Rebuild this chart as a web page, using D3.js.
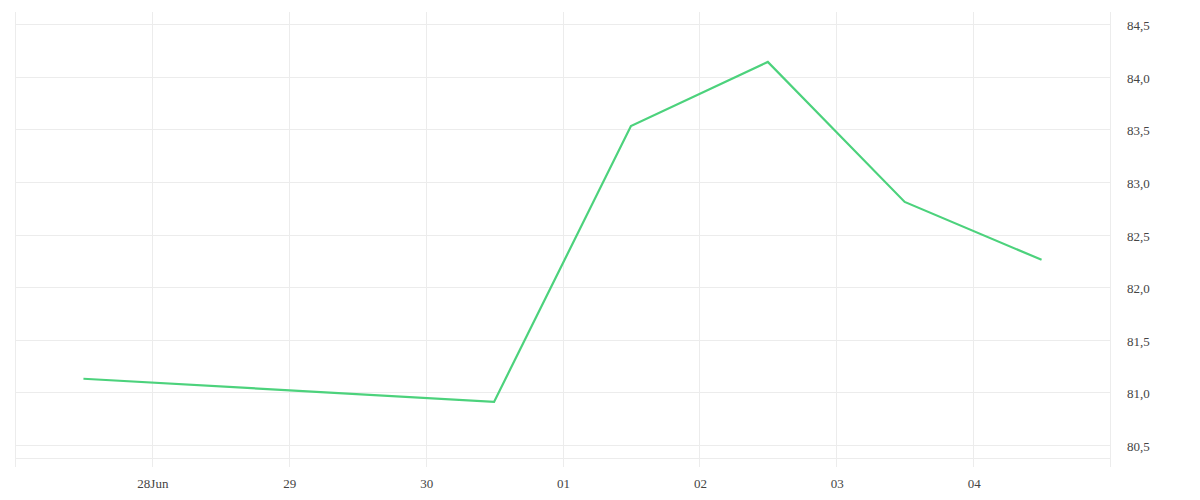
<!DOCTYPE html>
<html>
<head>
<meta charset="utf-8">
<script src="https://cdn.jsdelivr.net/npm/d3@7/dist/d3.min.js"></script>
<style>
  html, body { margin: 0; padding: 0; background: #fff; }
  svg text { font-family: "Liberation Serif", serif; font-size: 13px; fill: #444; }
</style>
</head>
<body>
<svg id="chart" width="1200" height="500"></svg>
<script>
// ---- data ----
const dates = ["2020-06-27T12:00", "2020-06-30T12:00", "2020-07-01T12:00", "2020-07-02T12:00", "2020-07-03T12:00", "2020-07-04T12:00"];
const values = [81.13, 80.91, 83.53, 84.14, 82.81, 82.26];
const xDomain = ["2020-06-27T00:00", "2020-07-05T00:00"];
const xTickDates = ["2020-06-28", "2020-06-29", "2020-06-30", "2020-07-01", "2020-07-02", "2020-07-03", "2020-07-04"];
const xTickLabels = ["28Jun", "29", "30", "01", "02", "03", "04"];
const yDomain = [80.377, 84.614];
const yTicks = [80.5, 81.0, 81.5, 82.0, 82.5, 83.0, 83.5, 84.0, 84.5];
const yTickLabels = ["80,5", "81,0", "81,5", "82,0", "82,5", "83,0", "83,5", "84,0", "84,5"];

// ---- layout ----
const plotLeft = 15, plotRight = 1110, plotTop = 12, plotBottom = 458, gridBottom = 467;
const parse = s => new Date(s);
const svg = d3.select("#chart");

const x = d3.scaleTime().domain(xDomain.map(parse)).range([plotLeft, plotRight]);
const y = d3.scaleLinear().domain(yDomain).range([plotBottom, plotTop]);

const gridColor = "#ececec";

// vertical grid lines (day boundaries)
const vLines = [parse(xDomain[0])].concat(xTickDates.map(d => parse(d + "T00:00")), [parse(xDomain[1])]);
svg.append("g").selectAll("line").data(vLines).join("line")
  .attr("x1", d => Math.round(x(d)) + 0.5).attr("x2", d => Math.round(x(d)) + 0.5)
  .attr("y1", plotTop).attr("y2", gridBottom)
  .attr("stroke", gridColor).attr("stroke-width", 1);

// horizontal grid lines
svg.append("g").selectAll("line").data(yTicks).join("line")
  .attr("x1", plotLeft).attr("x2", plotRight)
  .attr("y1", d => Math.round(y(d)) + 0.5).attr("y2", d => Math.round(y(d)) + 0.5)
  .attr("stroke", gridColor).attr("stroke-width", 1);

// bottom baseline
svg.append("line")
  .attr("x1", plotLeft).attr("x2", plotRight)
  .attr("y1", plotBottom + 0.5).attr("y2", plotBottom + 0.5)
  .attr("stroke", gridColor).attr("stroke-width", 1);

// y-axis labels (right)
svg.append("g").selectAll("text").data(yTicks).join("text")
  .attr("x", plotRight + 17)
  .attr("y", d => y(d) + 6)
  .attr("text-anchor", "start")
  .text((d, i) => yTickLabels[i]);

// x-axis labels
svg.append("g").selectAll("text").data(xTickDates).join("text")
  .attr("x", d => x(parse(d + "T00:00")) + 1)
  .attr("y", 488)
  .attr("text-anchor", "middle")
  .text((d, i) => xTickLabels[i]);

// line
const pts = dates.map((d, i) => [parse(d), values[i]]);
svg.append("path")
  .datum(pts)
  .attr("fill", "none")
  .attr("stroke", "#4cd27c")
  .attr("stroke-width", 2.2)
  .attr("stroke-linejoin", "miter")
  .attr("d", d3.line().x(d => x(d[0])).y(d => y(d[1])));
</script>
</body>
</html>
